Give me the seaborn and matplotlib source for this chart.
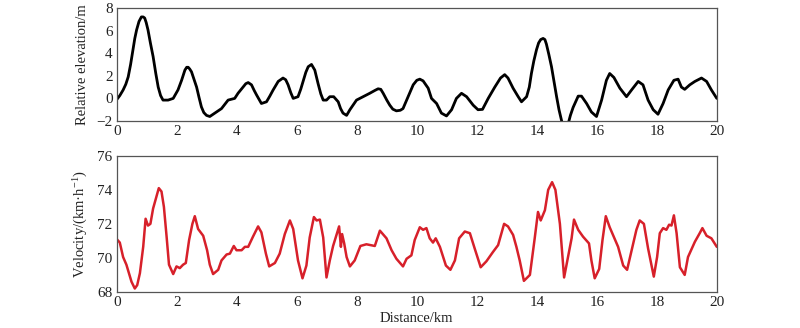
import numpy as np
import pandas as pd
import seaborn as sns
import matplotlib
matplotlib.use("Agg")
import matplotlib.pyplot as plt

# Elevation profile (distance km, relative elevation m)
elev_x = [0, 0.1, 0.21, 0.3, 0.38, 0.46, 0.54, 0.6, 0.66, 0.74, 0.82, 0.88, 0.93, 0.98, 1.04, 1.12, 1.21,
          1.3, 1.38, 1.46, 1.54, 1.71, 1.88, 2.04, 2.16, 2.27, 2.33,
          2.38, 2.43, 2.49, 2.57, 2.66, 2.74, 2.82, 2.9, 2.99, 3.1, 3.27, 3.49, 3.71, 3.93, 4.04, 4.21, 4.3, 4.38, 4.49, 4.58, 4.66, 4.82,
          4.99, 5.1, 5.21, 5.38, 5.54, 5.63, 5.71, 5.8, 5.88, 6.04, 6.13, 6.21, 6.3, 6.38, 6.49, 6.6, 6.71, 6.8, 6.88, 6.99, 7.1, 7.23,
          7.38, 7.46, 7.54, 7.66, 7.77, 7.99, 8.21, 8.43, 8.6, 8.71, 8.8, 8.88, 9.0, 9.1, 9.2, 9.32, 9.45, 9.54, 9.71, 9.88, 10.0, 10.1, 10.21,
          10.38, 10.49, 10.66, 10.82, 10.99, 11.16, 11.32, 11.49, 11.66, 11.88, 12.04, 12.19, 12.38, 12.6,
          12.79, 12.93, 13.04, 13.21, 13.38, 13.49, 13.66, 13.75, 13.82, 13.9, 13.99, 14.06, 14.13, 14.21, 14.27, 14.32, 14.4, 14.49, 14.58, 14.66,
          14.74, 14.82, 14.88, 15.04, 15.12, 15.21, 15.38, 15.49, 15.66, 15.82, 15.99, 16.16, 16.32, 16.43, 16.57, 16.77,
          16.99, 17.16, 17.38, 17.54, 17.71, 17.88, 18.04, 18.21, 18.38, 18.57, 18.71, 18.82, 18.93, 19.1,
          19.27, 19.49, 19.66, 19.82, 20.0]
elev_y = [-0.1, 0.25, 0.74, 1.25, 1.9, 3.0, 4.3, 5.3, 6.05, 6.8, 7.2, 7.2, 7.1, 6.7, 6.05, 4.9, 3.7,
          2.2, 1.0, 0.25, -0.15, -0.15, 0.0, 0.75, 1.6, 2.5, 2.75,
          2.75, 2.6, 2.35, 1.7, 1.0, 0.1, -0.75, -1.25, -1.5, -1.6, -1.3, -0.9, -0.15, 0.0, 0.45, 1.0, 1.3, 1.4, 1.2, 0.7, 0.3, -0.45,
          -0.3, 0.2, 0.74, 1.5, 1.8, 1.65, 1.2, 0.5, 0.0, 0.15, 0.8, 1.5, 2.3, 2.8, 3.0, 2.5, 1.3, 0.4, -0.15, -0.15, 0.15, 0.15,
          -0.3, -0.9, -1.3, -1.5, -1.0, -0.15, 0.15, 0.45, 0.7, 0.85, 0.8, 0.45, -0.15, -0.6, -0.95, -1.1, -1.05, -0.9, 0.15, 1.2, 1.6, 1.7, 1.55,
          0.9, 0.0, -0.45, -1.3, -1.55, -1.0, 0.0, 0.45, 0.15, -0.6, -1.0, -0.97, 0.0, 1.0,
          1.8, 2.1, 1.8, 0.9, 0.15, -0.3, 0.15, 1.0, 2.2, 3.3, 4.3, 4.9, 5.2, 5.3, 5.2, 4.8, 3.9, 2.8, 1.4, 0.15,
          -1.0, -1.9, -2.5, -2.3, -1.5, -0.8, 0.2, 0.2, -0.45, -1.2, -1.6, -0.15, 1.6, 2.2, 1.85, 0.9,
          0.15, 0.75, 1.5, 1.2, -0.15, -1.0, -1.4, -0.45, 0.75, 1.6, 1.7, 1.0, 0.8, 1.2,
          1.5, 1.8, 1.5, 0.75, 0.0]

# Velocity profile (distance km, velocity km/h)
vel_x = [0, 0.1, 0.21, 0.32, 0.49, 0.6, 0.68, 0.77, 0.88, 0.96, 1.04, 1.12, 1.21, 1.32, 1.4, 1.49,
         1.57, 1.66, 1.74, 1.88, 1.99, 2.1, 2.21, 2.3, 2.41, 2.52, 2.6, 2.71, 2.88, 3.01, 3.1, 3.21,
         3.38, 3.49, 3.66, 3.77, 3.9, 3.99, 4.16, 4.27, 4.38, 4.54, 4.71, 4.82, 4.97, 5.08, 5.27, 5.43,
         5.6, 5.77, 5.88, 6.04, 6.19, 6.32, 6.43, 6.57, 6.66, 6.77, 6.88, 6.99, 7.1, 7.21, 7.41, 7.47,
         7.51, 7.58, 7.66, 7.77, 7.93, 8.12, 8.32, 8.6, 8.77, 8.99, 9.16, 9.32, 9.54, 9.66, 9.82, 9.93,
         10.1, 10.21, 10.32, 10.43, 10.54, 10.63, 10.77, 10.97, 11.12, 11.27, 11.41, 11.6, 11.77, 11.93,
         12.13, 12.32, 12.54, 12.71, 12.91, 13.04, 13.21, 13.32, 13.43, 13.57, 13.77, 13.93, 14.04, 14.13,
         14.27, 14.38, 14.51, 14.62, 14.77, 14.91, 15.04, 15.16, 15.24, 15.38, 15.54, 15.74, 15.82, 15.93,
         16.08, 16.19, 16.3, 16.43, 16.71, 16.88, 17.01, 17.16, 17.32, 17.43, 17.57, 17.71, 17.79, 17.9,
         18.01, 18.1, 18.21, 18.32, 18.41, 18.49, 18.57, 18.66, 18.77, 18.93, 19.04, 19.27, 19.43, 19.52,
         19.66, 19.82, 20.0]
vel_y = [71.1, 70.9, 70.05, 69.6, 68.6, 68.2, 68.4, 69.1, 70.65, 72.3, 71.9, 72.0, 72.9, 73.6, 74.1, 73.9,
         73.0, 71.25, 69.6, 69.05, 69.5, 69.4, 69.6, 69.7, 71.05, 72.0, 72.45, 71.7, 71.3, 70.45, 69.6, 69.05,
         69.3, 69.85, 70.2, 70.25, 70.7, 70.45, 70.45, 70.65, 70.65, 71.25, 71.85, 71.5, 70.25, 69.5, 69.7, 70.25,
         71.4, 72.2, 71.7, 69.85, 68.8, 69.55, 71.2, 72.4, 72.2, 72.25, 71.2, 68.85, 69.85, 70.7, 71.85, 70.65,
         71.4, 70.85, 70.05, 69.5, 69.85, 70.7, 70.8, 70.7, 71.6, 71.15, 70.45, 69.95, 69.5, 69.95, 70.15, 71.05,
         71.8, 71.65, 71.75, 71.15, 70.9, 71.15, 70.65, 69.55, 69.3, 69.85, 71.15, 71.55, 71.45, 70.55,
         69.45, 69.8, 70.35, 70.75, 72.0, 71.85, 71.35, 70.65, 69.85, 68.65, 69.0, 71.15, 72.7, 72.2,
         72.8, 74.0, 74.45, 74.0, 72.0, 68.85, 70.05, 71.15, 72.25, 71.65, 71.25, 70.85, 69.85, 68.8,
         69.35, 71.05, 72.45, 71.8, 70.65, 69.55, 69.3, 70.45, 71.65, 72.2, 72.0, 70.55, 69.85, 68.9,
         70.05, 71.45, 71.75, 71.65, 71.95, 71.9, 72.5, 71.45, 69.45, 69.0, 70.05, 70.95, 71.45, 71.75,
         71.3, 71.15, 70.65]

x_ticks = [0, 2, 4, 6, 8, 10, 12, 14, 16, 18, 20]

sns.set_style("white")
plt.rcParams['font.family'] = ['Liberation Serif', 'DejaVu Serif']
plt.rcParams['mathtext.fontset'] = 'custom'
plt.rcParams['mathtext.rm'] = 'Liberation Serif'
plt.rcParams['mathtext.it'] = 'Liberation Serif:italic'

fig = plt.figure(figsize=(8, 3.28), dpi=100)
ax1 = fig.add_axes([0.146, 0.631, 0.75, 0.345])
ax2 = fig.add_axes([0.146, 0.110, 0.75, 0.415])

df1 = pd.DataFrame({"d": elev_x, "e": elev_y})
df2 = pd.DataFrame({"d": vel_x, "v": vel_y})
sns.lineplot(data=df1, x="d", y="e", ax=ax1, color="black", linewidth=2.0, estimator=None, sort=False,
             solid_joinstyle='round', solid_capstyle='round')
sns.lineplot(data=df2, x="d", y="v", ax=ax2, color="#d7202a", linewidth=1.8, estimator=None, sort=False,
             solid_joinstyle='round', solid_capstyle='round')

ax1.set_xlim(0, 20)
ax1.set_ylim(-2, 8)
ax1.set_yticks([-2, 0, 2, 4, 6, 8])
ax2.set_xlim(0, 20)
ax2.set_ylim(68, 76)
ax2.set_yticks([68, 70, 72, 74, 76])
for ax in (ax1, ax2):
    ax.set_xticks(x_ticks)
    ax.tick_params(direction='in', length=3, width=0.8, labelsize=11, colors='#333333',
                   labelcolor='#222222', pad=3)
    for s in ax.spines.values():
        s.set_color('#555555')
        s.set_linewidth(0.9)
    ax.set_xlabel("")

ax1.set_ylabel("Relative elevation/m", fontsize=10.5, color='#222222', labelpad=5)
ax2.set_ylabel("Velocity/(km·h$^{-1}$)", fontsize=10.5, color='#222222', labelpad=5)
ax2.set_xlabel("Distance/km", fontsize=10.5, color='#222222', labelpad=2)

fig.savefig("out.png", dpi=100)
